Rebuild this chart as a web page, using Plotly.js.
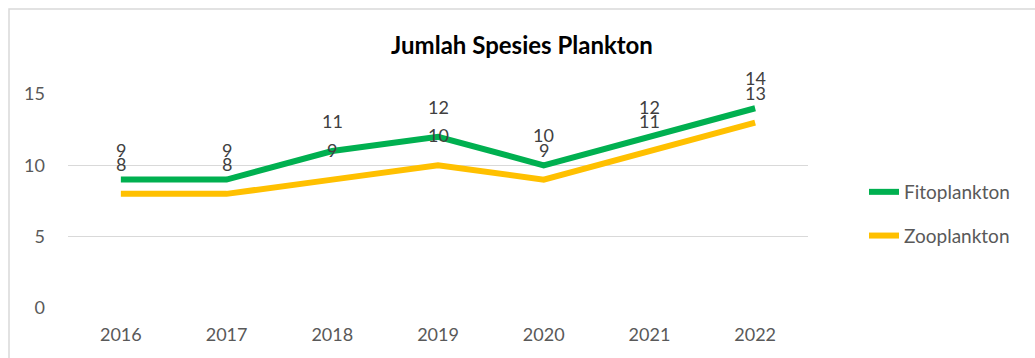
<!DOCTYPE html>
<html>
<head>
<meta charset="utf-8">
<script src="https://cdn.plot.ly/plotly-3.0.1.min.js"></script>
<style>
  html, body { margin: 0; padding: 0; background: #ffffff; }
  #chart { width: 1035px; height: 358px; }
</style>
</head>
<body>
<div id="chart"></div>
<script>
const years = ['2016', '2017', '2018', '2019', '2020', '2021', '2022'];
const fitoplankton = [9, 9, 11, 12, 10, 12, 14];
const zooplankton = [8, 8, 9, 10, 9, 11, 13];
const yTicks = [0, 5, 10, 15];

const FONT = 'Lato, "Open Sans", "Noto Sans", sans-serif';
const GREEN = '#00B050';
const YELLOW = '#FFC000';

const traces = [
  {
    x: years, y: fitoplankton, name: 'Fitoplankton', type: 'scatter', mode: 'lines',
    line: { color: GREEN, width: 6 }, legendgroup: 'a', hoverinfo: 'x+y'
  },
  {
    x: years, y: zooplankton, name: 'Zooplankton', type: 'scatter', mode: 'lines',
    line: { color: YELLOW, width: 6 }, legendgroup: 'b', hoverinfo: 'x+y'
  }
];

const annotations = [];
function addLabels(vals) {
  vals.forEach((v, i) => {
    annotations.push({
      x: i, y: v, xref: 'x', yref: 'y', text: String(v), showarrow: false,
      yshift: 30, yanchor: 'middle', xanchor: 'center',
      font: { family: FONT, size: 18, color: '#404040' }
    });
  });
}
addLabels(fitoplankton);
addLabels(zooplankton);

const layout = {
  width: 1035, height: 358,
  margin: { l: 68, r: 227, t: 94, b: 50 },
  paper_bgcolor: '#ffffff', plot_bgcolor: '#ffffff',
  font: { family: FONT, size: 18, color: '#595959' },
  title: {
    text: '<b>Jumlah Spesies Plankton</b>',
    font: { family: FONT, size: 24, color: '#000000' },
    xref: 'paper', x: (522 - 68) / 740, xanchor: 'center',
    yref: 'container', y: 1 - 46 / 358, yanchor: 'middle'
  },
  xaxis: {
    type: 'category', categoryarray: years, categoryorder: 'array', range: [-0.5, 6.5],
    showgrid: false, zeroline: false, showline: false, ticklabelstandoff: 14,
    ticks: '', tickfont: { family: FONT, size: 18, color: '#595959' }, fixedrange: true
  },
  yaxis: {
    range: [0, 15], tickvals: yTicks, ticktext: yTicks.map(String),
    showgrid: true, gridcolor: '#D9D9D9', gridwidth: 1.5, zeroline: false, showline: false,
    ticks: '', ticklabelstandoff: 22, tickfont: { family: FONT, size: 18, color: '#595959' }, fixedrange: true
  },
  showlegend: true,
  legend: {
    x: (864 - 68) / 740, xanchor: 'left', y: (308 - 214) / 214, yanchor: 'middle',
    font: { family: FONT, size: 19, color: '#595959' },
    traceorder: 'grouped', tracegroupgap: 16, bgcolor: 'rgba(0,0,0,0)'
  },
  annotations: annotations,
  shapes: [
    {
      type: 'rect', xref: 'paper', yref: 'paper', layer: 'below',
      x0: (9 - 68) / 740, x1: (1045 - 68) / 740,
      y0: (308 - 370) / 214, y1: (308 - 9) / 214,
      line: { color: '#D9D9D9', width: 1.5 }, fillcolor: 'rgba(0,0,0,0)'
    }
  ]
};

Plotly.newPlot('chart', traces, layout, { displayModeBar: false, staticPlot: true });
</script>
</body>
</html>
